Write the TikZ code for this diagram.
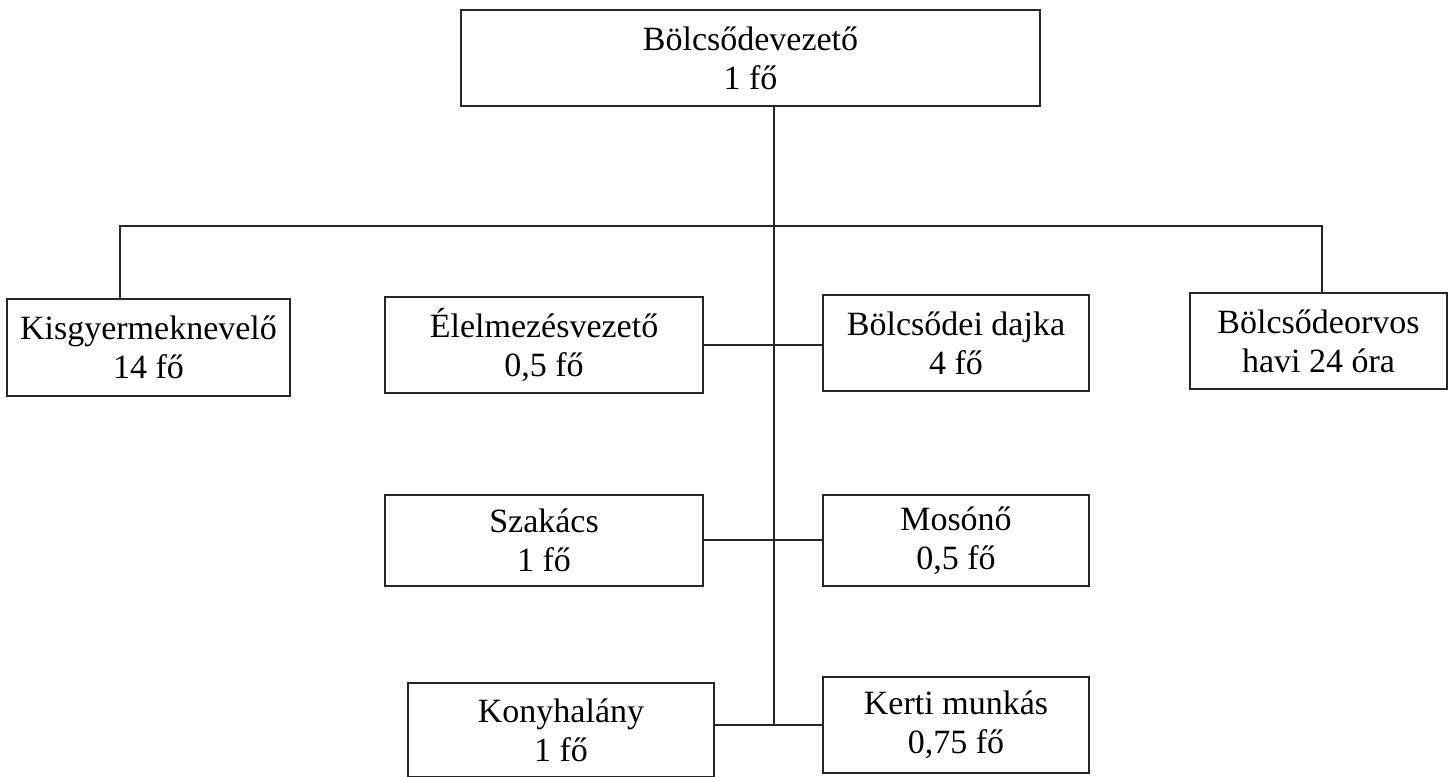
\documentclass[tikz,border=0pt]{standalone}
\usepackage{fontspec}
\setmainfont{Liberation Serif}
\begin{document}
\begin{tikzpicture}[x=1pt,y=-1pt,
  box/.style={draw=black!85, line width=1.3pt, inner sep=0pt, align=center,
    font=\fontsize{34}{39}\selectfont},
  conn/.style={draw=black!85, line width=1.3pt}]
\useasboundingbox (0,0) rectangle (1450,776);
% boxes
\node[box, minimum width=579pt, minimum height=96pt] (top) at (750.5,58) {Bölcsődevezető\\1 fő};
\node[box, minimum width=283pt, minimum height=97pt] (kis) at (148.5,347.5) {Kisgyermeknevelő\\14 fő};
\node[box, minimum width=257pt, minimum height=96pt] (orv) at (1318.5,341) {Bölcsődeorvos\\havi 24 óra};
\node[box, minimum width=318pt, minimum height=96pt] (elm) at (544,345) {Élelmezésvezető\\0,5 fő};
\node[box, minimum width=266pt, minimum height=96pt] (dajka) at (956,343) {Bölcsődei dajka\\4 fő};
\node[box, minimum width=318pt, minimum height=91pt] (szak) at (544,540.5) {Szakács\\1 fő};
\node[box, minimum width=266pt, minimum height=91pt] (moso) at (956,540.5) {Mosónő\\0,5 fő};
\node[box, minimum width=306pt, minimum height=94pt] (kony) at (561,730) {Konyhalány\\1 fő};
\node[box, minimum width=266pt, minimum height=96pt] (kerti) at (956,725) {Kerti munkás\\0,75 fő};
% junctions
\coordinate (j0) at (774,226);
\coordinate (jl) at (120,226);
\coordinate (jr) at (1322,226);
\coordinate (j1) at (774,345);
\coordinate (j2) at (774,540);
\coordinate (j3) at (774,725);
% connectors
\draw[conn] (top.south -| j0) -- (j3);
\draw[conn] (jl |- kis.north) -- (jl) -- (jr) -- (jr |- orv.north);
\draw[conn] (elm.east |- j1) -- (dajka.west |- j1);
\draw[conn] (szak.east |- j2) -- (moso.west |- j2);
\draw[conn] (kony.east |- j3) -- (kerti.west |- j3);
\end{tikzpicture}
\end{document}
